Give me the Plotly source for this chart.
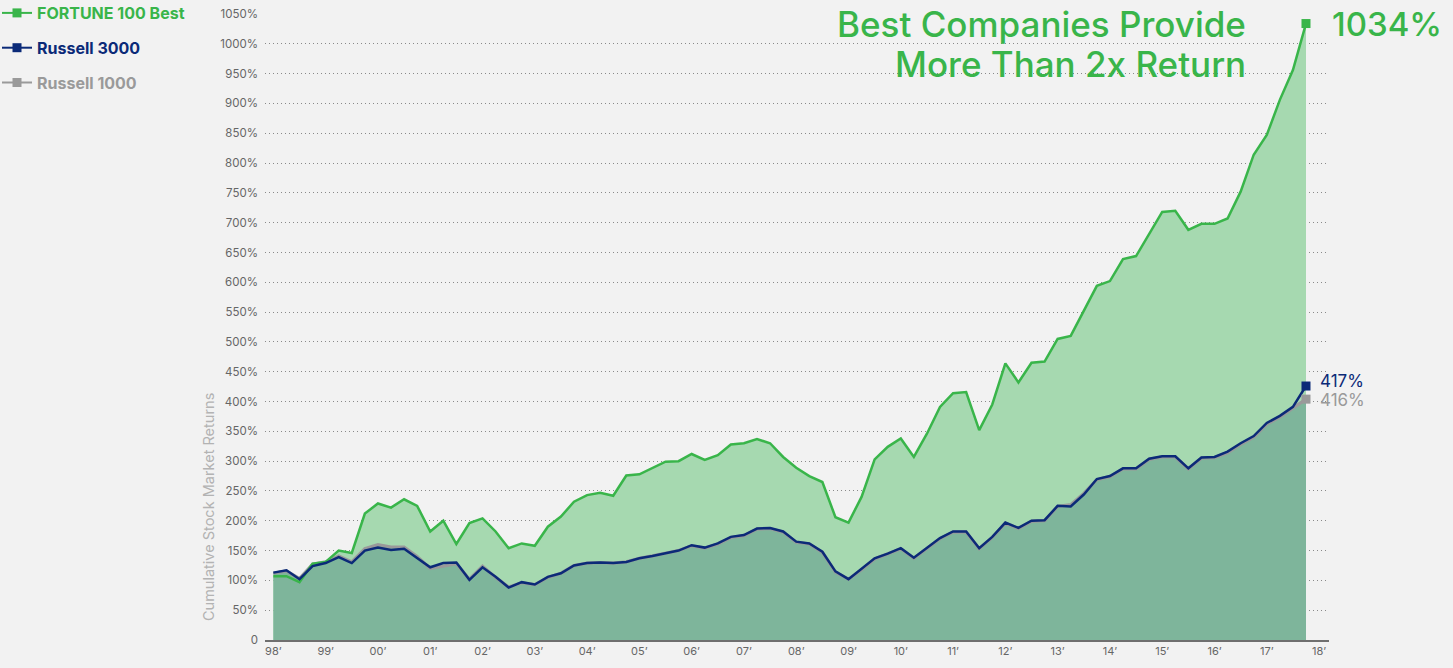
import plotly.graph_objects as go

# ---------------- data ----------------
quarters = [1998 + q / 4 for q in range(80)]

fortune_best = [107, 107, 97, 128, 131, 150, 146, 212, 229, 222,
                236, 225, 182, 200, 161, 196, 204, 182, 154, 162,
                158, 190, 207, 232, 243, 247, 242, 276, 278, 289,
                299, 300, 312, 302, 310, 328, 330, 337, 330, 307,
                289, 275, 265, 206, 197, 240, 303, 324, 338, 307,
                346, 391, 414, 416, 352, 395, 464, 432, 465, 467,
                505, 510, 551, 594, 602, 639, 644, 682, 718, 720,
                688, 698, 698, 707, 752, 814, 847, 906, 956, 1034]

russell_3000 = [113, 117, 102, 124, 129, 139, 129, 150, 155, 151,
                153, 138, 122, 129, 130, 101, 122, 106, 88, 97,
                93, 106, 112, 125, 129, 130, 129, 131, 137, 141,
                146, 150, 159, 155, 162, 173, 176, 187, 188, 182,
                165, 162, 148, 115, 102, 119, 137, 145, 154, 138,
                155, 171, 182, 182, 154, 173, 197, 188, 200, 201,
                225, 224, 244, 270, 275, 288, 288, 304, 308, 308,
                288, 306, 307, 316, 330, 342, 364, 376, 391, 426]

russell_1000 = [112, 116, 103, 127, 131, 141, 131, 153, 160, 156,
                156, 140, 120, 124, 128, 102, 124, 105, 89, 96,
                93, 105, 112, 125, 129, 130, 129, 131, 137, 141,
                146, 150, 158, 154, 161, 172, 175, 186, 187, 181,
                164, 161, 147, 114, 102, 118, 136, 144, 153, 137,
                154, 170, 181, 181, 153, 172, 196, 187, 199, 200,
                224, 227, 246, 269, 274, 287, 287, 303, 307, 307,
                287, 305, 306, 314, 328, 340, 362, 374, 389, 404]

series_names = ["FORTUNE 100 Best", "Russell 3000", "Russell 1000"]
end_labels = ["1034%", "417%", "416%"]
title_lines = ["Best Companies Provide", "More Than 2x Return"]
y_axis_title = "Cumulative Stock Market Returns"

year_ticks = list(range(1998, 2019))
year_labels = [f"{y % 100:02d}\u2019" for y in year_ticks]
y_ticks = list(range(0, 1051, 50))
y_labels = ["0"] + [f"{v}%" for v in y_ticks[1:]]

# ---------------- styles ----------------
GREEN = "#39b54a"
GREEN_FILL = "#a6d9b0"
NAVY = "#0b2a78"
GRAY = "#9a9a9a"
DARK_FILL = "#7eb59b"
BG = "#f2f2f2"
FONT = "Inter"

W, H = 1453, 668
L, R, T, B = 265, W - 1329, 14, H - 640
PW, PH = W - L - R, H - T - B


def xp(px):
    return (px - L) / PW


def yp(py):
    return (H - B - py) / PH


fig = go.Figure()

# fills first
fig.add_trace(go.Scatter(x=quarters, y=fortune_best, mode="none", fill="tozeroy",
                         fillcolor=GREEN_FILL, showlegend=False, hoverinfo="skip"))
fig.add_trace(go.Scatter(x=quarters, y=russell_1000, mode="none", fill="tozeroy",
                         fillcolor=DARK_FILL, showlegend=False, hoverinfo="skip"))

# lines
fig.add_trace(go.Scatter(x=quarters, y=russell_1000, mode="lines",
                         line=dict(color=GRAY, width=3.2), showlegend=False))
fig.add_trace(go.Scatter(x=quarters, y=fortune_best, mode="lines",
                         line=dict(color=GREEN, width=2.5), showlegend=False))
fig.add_trace(go.Scatter(x=quarters, y=russell_3000, mode="lines",
                         line=dict(color=NAVY, width=2.5), showlegend=False))

# end markers
for ys, col in [(fortune_best, GREEN), (russell_1000, GRAY), (russell_3000, NAVY)]:
    fig.add_trace(go.Scatter(x=[quarters[-1]], y=[ys[-1]], mode="markers",
                             marker=dict(symbol="square", size=9, color=col),
                             showlegend=False, hoverinfo="skip"))

# legend-only entries
for i, (name, col) in enumerate(zip(series_names, [GREEN, NAVY, GRAY])):
    fig.add_trace(go.Scatter(
        x=[None], y=[None], mode="lines+markers",
        name=f"<span style='color:{col}'><b>{name}</b></span>",
        line=dict(color=col, width=2),
        marker=dict(symbol="square", size=9, color=col),
        legendgroup=f"g{i}", showlegend=True))

ann = []
ann.append(dict(x=xp(1248), y=yp(24), xref="paper", yref="paper", text=title_lines[0],
                showarrow=False, xanchor="right", yanchor="middle",
                font=dict(family=FONT, size=35, color=GREEN, weight=500)))
ann.append(dict(x=xp(1248), y=yp(64), xref="paper", yref="paper", text=title_lines[1],
                showarrow=False, xanchor="right", yanchor="middle",
                font=dict(family=FONT, size=35, color=GREEN, weight=500)))
ann.append(dict(x=xp(1330), y=yp(24), xref="paper", yref="paper", text=end_labels[0],
                showarrow=False, xanchor="left", yanchor="middle",
                font=dict(family=FONT, size=33, color=GREEN, weight=500)))
ann.append(dict(x=xp(1318), y=yp(381), xref="paper", yref="paper", text=end_labels[1],
                showarrow=False, xanchor="left", yanchor="middle",
                font=dict(family=FONT, size=17, color=NAVY)))
ann.append(dict(x=xp(1318), y=yp(400), xref="paper", yref="paper", text=end_labels[2],
                showarrow=False, xanchor="left", yanchor="middle",
                font=dict(family=FONT, size=17, color=GRAY)))
ann.append(dict(x=xp(208), y=yp(507), xref="paper", yref="paper", text=y_axis_title,
                showarrow=False, textangle=-90, xanchor="center", yanchor="middle",
                font=dict(family=FONT, size=14.5, color="#b3b3b3")))

fig.update_layout(
    width=W, height=H,
    margin=dict(l=L, r=R, t=T, b=B, pad=0, autoexpand=False),
    paper_bgcolor=BG, plot_bgcolor=BG,
    font=dict(family=FONT, color="#666"),
    showlegend=True,
    legend=dict(x=xp(-3), y=yp(-4), xanchor="left", yanchor="top",
                bgcolor="rgba(0,0,0,0)", font=dict(family=FONT, size=16),
                tracegroupgap=11, itemwidth=30),
    annotations=ann,
    xaxis=dict(range=[1997.84, 2018.19], tickmode="array", tickvals=year_ticks,
               ticktext=year_labels, showgrid=False, zeroline=False,
               showline=True, linecolor="#6f6f6f", linewidth=1.5, ticks="",
               tickfont=dict(family=FONT, size=11, color="#666")),
    yaxis=dict(range=[0, 1050], tickmode="array", tickvals=y_ticks, ticktext=y_labels,
               showgrid=True, gridcolor="#8a8a8a", gridwidth=1, griddash="1px,3px",
               zeroline=False, showline=False, ticks="", ticklabelstandoff=6,
               tickfont=dict(family=FONT, size=11.5, color="#666")),
)

fig.write_html("out.html")
